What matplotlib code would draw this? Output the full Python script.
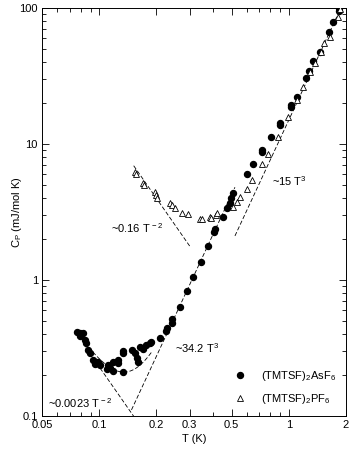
import numpy as np
import matplotlib
matplotlib.use("Agg")
import matplotlib.pyplot as plt
from matplotlib.ticker import FixedLocator, NullFormatter, LogLocator

# (TMTSF)2AsF6 data, T in K, Cp in mJ/mol K
asf6_T = [0.0764, 0.0792, 0.0792, 0.0822, 0.0837, 0.0852, 0.0873, 0.0890,
          0.0927, 0.0962, 0.0950, 0.0986, 0.1010, 0.1110, 0.1140, 0.1100,
          0.1182, 0.1182, 0.1256, 0.1256, 0.1334, 0.1334, 0.1340, 0.1488,
          0.1543, 0.1580, 0.1610, 0.1640, 0.1700, 0.1760, 0.1851, 0.1870,
          0.2090, 0.2247, 0.2270, 0.2416, 0.2416, 0.2662, 0.2898, 0.3116,
          0.3433, 0.3739, 0.4021, 0.4070, 0.4484, 0.4707, 0.4881, 0.4975,
          0.5061, 0.5998, 0.6448, 0.7194, 0.7194, 0.8022, 0.8945, 0.8945,
          1.022, 1.022, 1.099, 1.240, 1.271, 1.334, 1.453, 1.620, 1.721,
          1.830, 1.851]
asf6_C = [0.415, 0.410, 0.390, 0.408, 0.360, 0.345, 0.305, 0.290,
          0.258, 0.250, 0.240, 0.250, 0.237, 0.237, 0.225, 0.220,
          0.250, 0.215, 0.258, 0.245, 0.290, 0.210, 0.300, 0.305,
          0.290, 0.265, 0.250, 0.322, 0.310, 0.330, 0.344, 0.350,
          0.375, 0.420, 0.440, 0.483, 0.520, 0.633, 0.830, 1.052,
          1.357, 1.778, 2.254, 2.371, 2.905, 3.380, 3.683, 4.009,
          4.363, 6.017, 7.128, 9.036, 8.730, 11.26, 14.27, 13.80,
          19.36, 18.70, 22.16, 30.58, 34.40, 40.50, 47.49, 66.60, 78.90,
          95.0, 100.0]

# (TMTSF)2PF6 data
pf6_T = [0.1543, 0.1560, 0.1700, 0.1720, 0.1966, 0.1990, 0.2016, 0.2360,
         0.2416, 0.2506, 0.2728, 0.2932, 0.3393, 0.3470, 0.3830, 0.3900,
         0.4120, 0.4170, 0.5060, 0.5310, 0.5510, 0.6000, 0.6370, 0.7190,
         0.7730, 0.8730, 0.9850, 1.099, 1.182, 1.287, 1.367, 1.470,
         1.543, 1.640, 1.807, 1.870]
pf6_C = [6.22, 6.00, 5.17, 5.00, 4.44, 4.20, 4.01, 3.68,
         3.55, 3.38, 3.11, 3.06, 2.81, 2.81, 2.905, 2.85,
         3.006, 3.11, 3.44, 3.75, 4.07, 4.67, 5.44, 7.13,
         8.44, 11.26, 15.8, 21.06, 26.2, 33.8, 39.4, 47.5,
         55.3, 61.2, 85.9, 98.0]

# power law fits: coefficient, exponent, T range
fit_coef = [0.0023, 34.2, 0.16, 15.0]
fit_exp = [-2, 3, -2, 3]
fit_Tmin = [0.085, 0.148, 0.152, 0.52]
fit_Tmax = [0.152, 0.52, 0.30, 1.9]
fit_labels = ["~0.0023 T$^{\\,-2}$", "~34.2 T$^{3}$", "~0.16 T$^{\\,-2}$", "~15 T$^{3}$"]
label_pos = [(0.0535, 0.115), (0.252, 0.29), (0.116, 2.2), (0.82, 4.9)]
sum_range = (0.088, 0.19)

plt.rcParams['font.family'] = ['Liberation Sans', 'DejaVu Sans']
plt.rcParams['mathtext.fontset'] = 'custom'
plt.rcParams['mathtext.rm'] = 'Liberation Sans'
plt.rcParams['mathtext.it'] = 'Liberation Sans'

fig = plt.figure(figsize=(3.54, 4.57), dpi=100)
ax = fig.add_axes([0.119, 0.0897, 0.858, 0.8928])

dash = (0, (5, 2.5))
for a, n, t0, t1 in zip(fit_coef, fit_exp, fit_Tmin, fit_Tmax):
    tt = np.logspace(np.log10(t0), np.log10(t1), 100)
    ax.plot(tt, a * tt ** n, color='k', lw=0.6, linestyle=dash)

tt = np.logspace(np.log10(sum_range[0]), np.log10(sum_range[1]), 100)
ax.plot(tt, fit_coef[0] * tt ** fit_exp[0] + fit_coef[1] * tt ** fit_exp[1],
        color='k', lw=0.6, linestyle=dash)

ax.plot(asf6_T, asf6_C, 'o', color='k', ms=4.3, mec='k', zorder=3,
        label="(TMTSF)$_2$AsF$_6$")
ax.plot(pf6_T, pf6_C, '^', mfc='white', mec='k', mew=0.6, ms=4.0, zorder=3,
        label="(TMTSF)$_2$PF$_6$")

for txt, (x, y) in zip(fit_labels, label_pos):
    ax.text(x, y, txt, fontsize=8)

ax.set_xscale('log')
ax.set_yscale('log')
ax.set_xlim(0.05, 2)
ax.set_ylim(0.1, 100)

xt = [0.05, 0.1, 0.2, 0.3, 0.5, 1, 2]
ax.xaxis.set_major_locator(FixedLocator(xt))
ax.set_xticklabels(["0.05", "0.1", "0.2", "0.3", "0.5", "1", "2"])
ax.xaxis.set_minor_locator(LogLocator(base=10, subs=np.arange(2, 10)))
ax.xaxis.set_minor_formatter(NullFormatter())
yt = [0.1, 1, 10, 100]
ax.yaxis.set_major_locator(FixedLocator(yt))
ax.set_yticklabels(["0.1", "1", "10", "100"])
ax.yaxis.set_minor_locator(LogLocator(base=10, subs=np.arange(2, 10)))
ax.yaxis.set_minor_formatter(NullFormatter())

ax.tick_params(which='both', direction='in', top=True, right=True,
               labelsize=8, width=0.6, pad=3)
ax.tick_params(which='major', length=5)
ax.tick_params(which='minor', length=3)
for s in ax.spines.values():
    s.set_linewidth(0.7)

ax.set_xlabel("T (K)", fontsize=8, labelpad=3)
ax.set_ylabel("C$_P$ (mJ/mol K)", fontsize=8, labelpad=-3)

ax.legend(loc='lower right', bbox_to_anchor=(1.0, 0.0), frameon=False,
          fontsize=8, handletextpad=0.9, labelspacing=0.85, numpoints=1)

fig.savefig("out.png", dpi=100)
